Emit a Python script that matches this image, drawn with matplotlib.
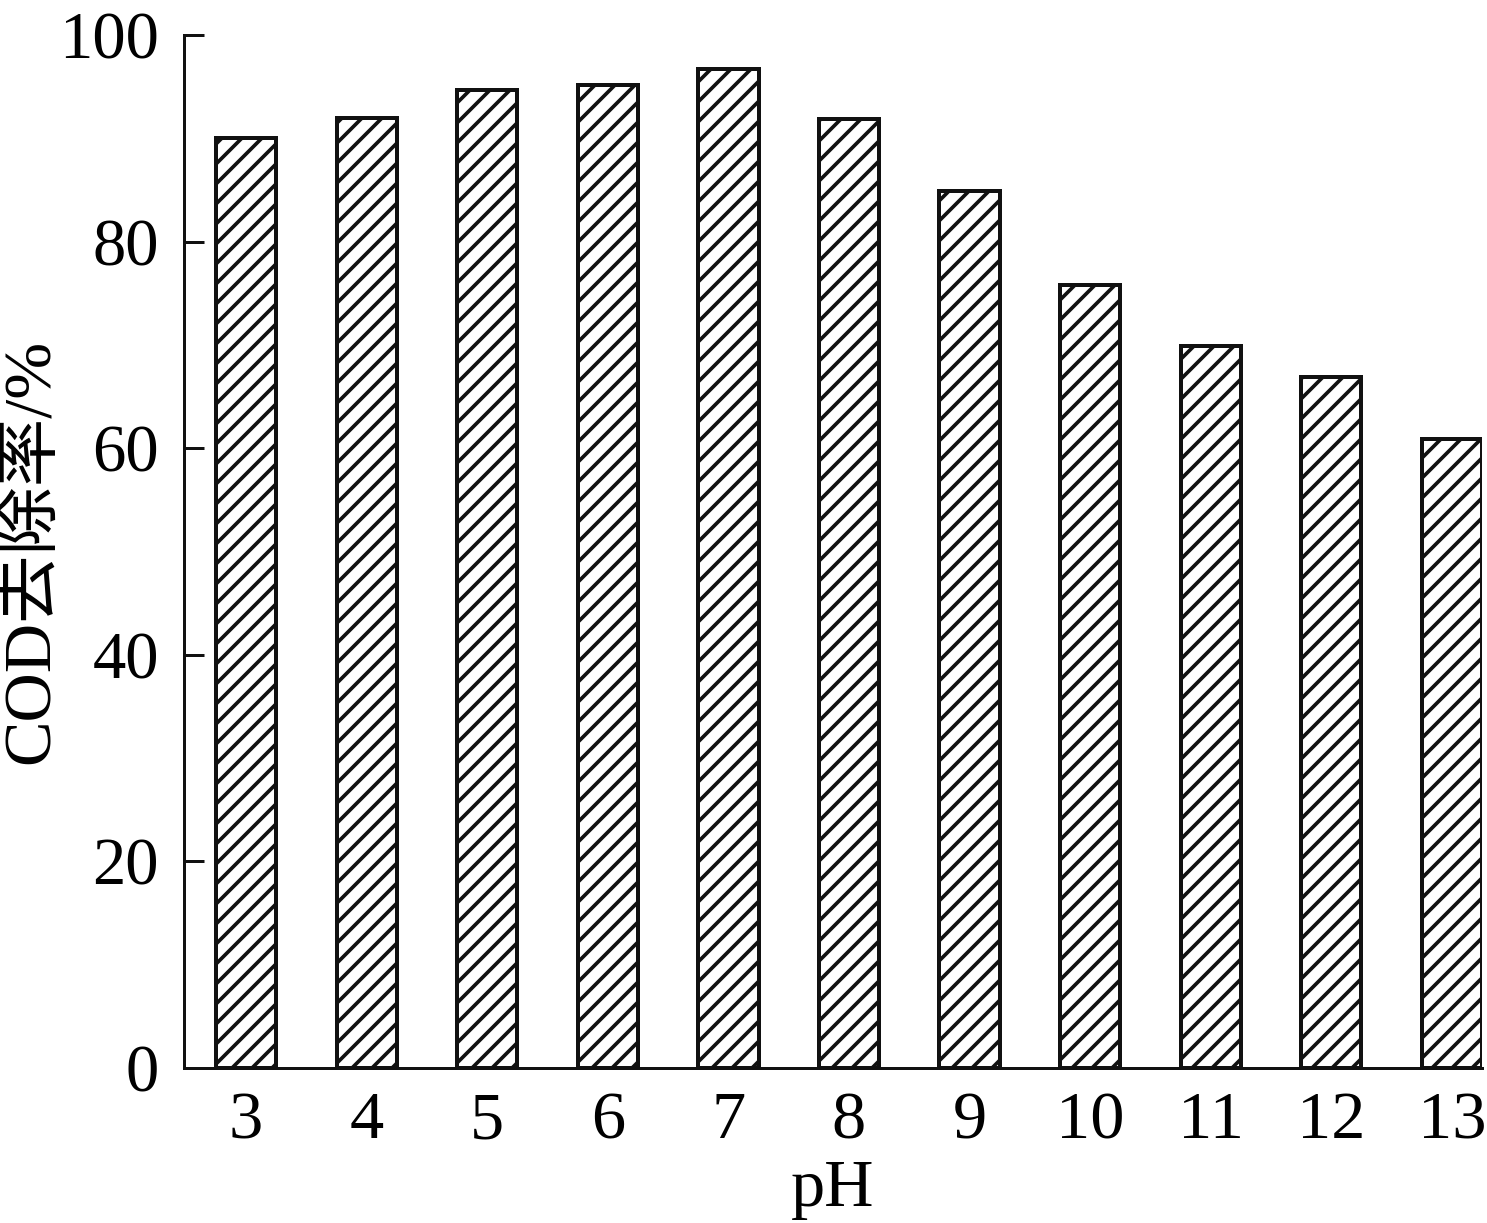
import matplotlib
matplotlib.use('Agg')
import matplotlib.pyplot as plt

ph = [3, 4, 5, 6, 7, 8, 9, 10, 11, 12, 13]
cod_removal = [90.0, 92.0, 94.7, 95.2, 96.7, 91.9, 84.9, 75.8, 69.9, 66.9, 60.9]
y_ticks = [0, 20, 40, 60, 80, 100]

plt.rcParams['font.family'] = ['Liberation Serif', 'Noto Sans CJK SC']
plt.rcParams['hatch.linewidth'] = 2.2

dpi = 120
fig = plt.figure(figsize=(1487 / dpi, 1223 / dpi), dpi=dpi)
ax = fig.add_axes([184 / 1487, 155 / 1223, 1298 / 1487, 1033 / 1223])

ax.bar(ph, cod_removal, width=0.5, color='white', edgecolor='#111111',
       linewidth=2.4, hatch='//')

ax.set_xlim(2.485, 13.25)
ax.set_ylim(0, 100)
ax.set_xticks(ph)
ax.set_xticklabels([str(p) for p in ph])
ax.set_yticks(y_ticks)

for side in ['top', 'right']:
    ax.spines[side].set_visible(False)
for side in ['left', 'bottom']:
    ax.spines[side].set_linewidth(1.8)
    ax.spines[side].set_color('#111111')

ax.tick_params(axis='y', direction='in', length=12, width=1.8, pad=15,
               labelsize=40, color='#111111')
ax.tick_params(axis='x', length=0, pad=14, labelsize=41)

ax.set_xlabel('pH', fontsize=41, labelpad=4)
ax.set_ylabel('COD去除率/%', fontsize=41, labelpad=-2)

fig.savefig('out.png', dpi=dpi)
